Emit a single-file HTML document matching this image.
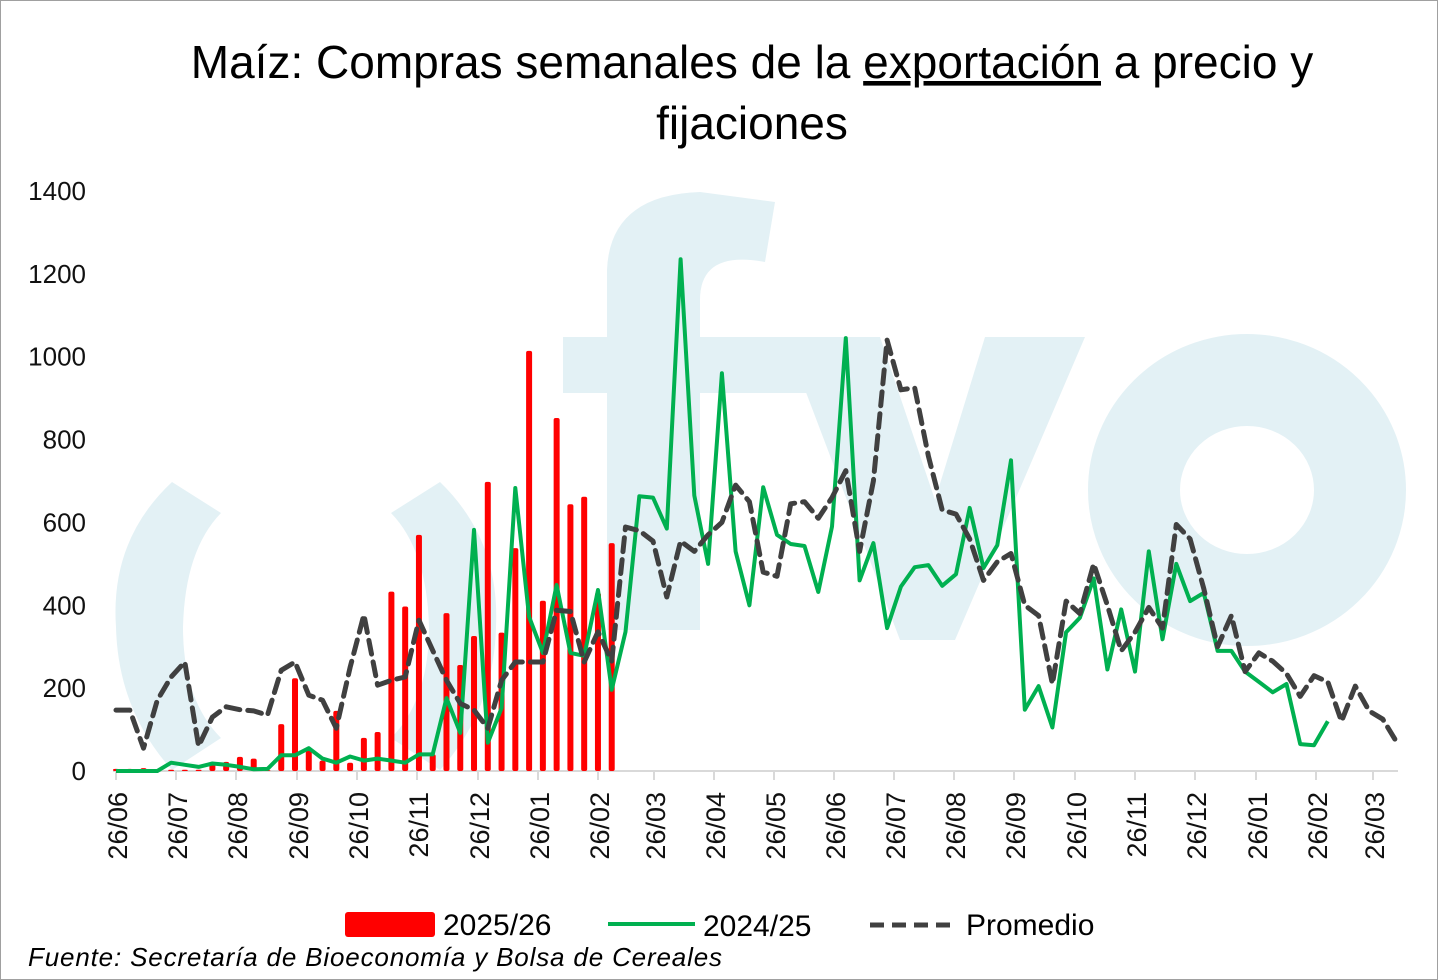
<!DOCTYPE html>
<html><head><meta charset="utf-8"><style>
html,body{margin:0;padding:0;background:#fff}
#w{position:relative;width:1436px;height:978px;border:1px solid #a0a0a0;overflow:hidden;font-family:"Liberation Sans",sans-serif}
</style></head><body><div id="w">
<svg id="s" width="1436" height="978" viewBox="1 1 1436 978" xmlns="http://www.w3.org/2000/svg" style="position:absolute;left:0;top:0">
<g fill="#e3f1f5">
<path d="M 172 482 Q 110 540 116 627 Q 118 710 172 770 L 221 738 Q 183 700 183 627 Q 185 550 221 513 Z"/>
<path d="M 440 482 Q 500 540 496 627 Q 494 710 440 770 L 391 738 Q 429 700 429 627 Q 427 550 391 513 Z"/>
<path d="M 607 630 L 607 270 Q 610 195 700 192 L 775 202 L 765 262 Q 700 250 700 300 L 700 630 Z"/>
<rect x="563" y="337" width="260" height="56"/>
<path d="M 785 337 L 880 337 L 935 500 L 985 337 L 1085 337 L 955 640 L 900 640 Z"/>
</g>
<ellipse cx="1247" cy="490" rx="113" ry="110" fill="none" stroke="#e3f1f5" stroke-width="92"/>
<g font-size="46" text-anchor="middle" fill="#000">
<text x="752" y="78">Maíz: Compras semanales de la <tspan text-decoration="underline">exportación</tspan> a precio y</text>
<text x="752" y="139">fijaciones</text>
</g>
<g font-size="26" text-anchor="end" fill="#111" id="yl"></g>
<line x1="113" y1="771" x2="1398" y2="771" stroke="#d9d9d9" stroke-width="2"/>
<g id="ticks" stroke="#d9d9d9" stroke-width="2"></g>
<g id="bars" fill="#ff0000"></g>
<path id="green" fill="none" stroke="#00b050" stroke-width="4" stroke-linejoin="round"/>
<path id="avg" fill="none" stroke="#404040" stroke-width="5" stroke-dasharray="14,8" stroke-linejoin="round" stroke-linecap="round"/>
<g id="xl" font-size="27" fill="#111"></g>
<rect x="345" y="912" width="90" height="25" rx="3" fill="#ff0000"/>
<text x="443" y="935" font-size="30">2025/26</text>
<line x1="608" y1="924" x2="695" y2="924" stroke="#00b050" stroke-width="4"/>
<text x="703" y="936" font-size="30">2024/25</text>
<line x1="870" y1="925" x2="958" y2="925" stroke="#404040" stroke-width="5" stroke-dasharray="14,8"/>
<text x="966" y="935" font-size="30">Promedio</text>
<text x="28" y="966" font-size="26" font-style="italic" textLength="694" lengthAdjust="spacing">Fuente: Secretaría de Bioeconomía y Bolsa de Cereales</text>
</svg>
<script>
var NS="http://www.w3.org/2000/svg";
function el(p,t,a,txt){var e=document.createElementNS(NS,t);for(var k in a)e.setAttribute(k,a[k]);if(txt)e.textContent=txt;document.getElementById(p).appendChild(e);}
function Y(v){return 771-v*0.4143;}
function X(i){return 116+13.77*i;}
for(var v=0;v<=1400;v+=200)el("yl","text",{x:86,y:Y(v)+9},String(v));
var mx=[116,176,236,297,357,417,478,538,598,654,714,774,834,894,954,1014,1075,1135,1195,1256,1316,1373];
var ml=["26/06","26/07","26/08","26/09","26/10","26/11","26/12","26/01","26/02","26/03","26/04","26/05","26/06","26/07","26/08","26/09","26/10","26/11","26/12","26/01","26/02","26/03"];
for(var i=0;i<mx.length;i++){el("ticks","line",{x1:mx[i],y1:771,x2:mx[i],y2:780});
el("xl","text",{x:0,y:0,"text-anchor":"end",transform:"translate("+(mx[i]+11)+",792) rotate(-90)"},ml[i]);}
var bars=[5,5,7,2,3,3,3,20,22,34,30,2,113,224,50,25,145,20,80,94,433,397,570,40,381,256,326,698,334,538,1014,411,852,644,662,430,550];
for(var i=0;i<bars.length;i++){var h=bars[i]*0.4143;el("bars","rect",{x:X(i)-3,y:771-h,width:6,height:h,rx:2});}
var g=[0,0,0,0,20,15,10,18,15,10,4,5,38,38,55,30,20,35,25,30,25,20,40,40,176,92,582,68,152,683,372,285,449,285,278,437,196,336,663,660,585,1235,665,500,960,530,400,685,570,548,543,432,590,1045,460,550,345,445,492,497,447,475,635,490,545,750,148,205,105,335,370,465,245,390,240,530,318,500,410,430,290,290,240,215,190,210,65,62,120];
var a=[147,147,55,171,227,263,60,130,155,148,145,135,243,263,183,171,103,250,377,207,219,227,364,291,219,163,147,103,219,263,263,263,388,385,263,336,265,589,580,555,420,555,530,570,600,690,650,480,470,645,650,610,660,725,530,700,1040,920,925,760,630,620,560,460,505,525,400,375,210,410,380,500,400,290,335,395,345,595,560,440,300,375,240,285,265,235,180,230,215,120,205,145,125,70];
function P(arr){return arr.map(function(v,i){return (i?"L":"M")+X(i).toFixed(1)+" "+Y(v).toFixed(1);}).join(" ");}
document.getElementById("green").setAttribute("d",P(g));
document.getElementById("avg").setAttribute("d",P(a));
</script>
</div></body></html>
